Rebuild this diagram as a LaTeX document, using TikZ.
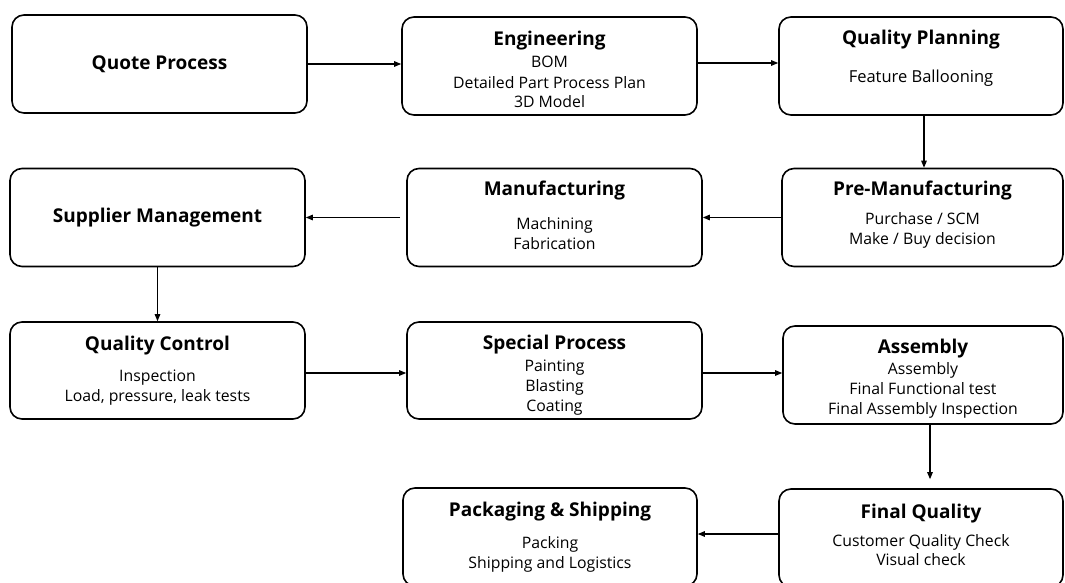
\documentclass[tikz,border=0pt]{standalone}
\usepackage{fontspec}
\setmainfont{Open Sans}
\usetikzlibrary{arrows.meta}

\newcommand{\stagetitle}[1]{{\fontsize{19}{20}\selectfont\bfseries #1}}

\begin{document}
\begin{tikzpicture}[
  x=1pt, y=-1pt,
  font=\fontsize{15.8}{20}\selectfont,
  every node/.style={align=center},
  stage/.style={draw=black, line width=1.6pt, rounded corners=12pt,
                minimum width=295pt, minimum height=98pt, inner sep=0pt},
  flow/.style={-{Triangle[length=7pt,width=5.5pt]}, line width=1.2pt},
]
\useasboundingbox (0,0) rectangle (1065,583);

% ---------- row 1 ----------
\node[stage] (quote) at (159.5,64) {\stagetitle{Quote Process}};
\node[stage] (eng) at (549.5,66)
  {\rule{0pt}{21pt}\stagetitle{Engineering}\\[2pt] BOM\\[1pt] Detailed Part Process Plan\\[-1pt] 3D Model};
\node[stage, minimum width=284pt] (qplan) at (921,66)
  {\stagetitle{Quality Planning}\\[18pt] {\fontsize{16.5}{20}\selectfont Feature Ballooning}\\ \mbox{}};

% ---------- row 2 ----------
\node[stage, minimum width=281pt] (premfg) at (922.5,217.5)
  {\stagetitle{Pre-Manufacturing}\\[9pt] Purchase / SCM\\ Make / Buy decision\rule[-9pt]{0pt}{9pt}};
\node[stage] (mfg) at (554.5,217.5)
  {\stagetitle{Manufacturing}\\[14pt] Machining\\ Fabrication\rule[-5pt]{0pt}{5pt}};
\node[stage] (supplier) at (157.5,217.5) {\stagetitle{Supplier Management}};

% ---------- row 3 ----------
\node[stage, minimum height=97pt] (qc) at (157.5,370.5)
  {\stagetitle{Quality Control}\\[11pt] Inspection\\ Load, pressure, leak tests};
\node[stage, minimum height=97pt] (special) at (554.5,370.5)
  {\rule{0pt}{24pt}\stagetitle{Special Process}\\[2pt] Painting\\ Blasting\\ Coating};
\node[stage, minimum width=280pt] (assembly) at (923,375)
  {\rule{0pt}{21pt}\stagetitle{Assembly}\\[1pt] Assembly\\ Final Functional test\\ Final Assembly Inspection};

% ---------- row 4 ----------
\node[stage, minimum width=284pt] (finalq) at (921,538)
  {\stagetitle{Final Quality}\\[8pt] Customer Quality Check\\[-1pt] Visual check\rule[-6pt]{0pt}{6pt}};
\node[stage, minimum width=294pt] (packing) at (550,537)
  {\stagetitle{Packaging \& Shipping}\\[12pt] Packing\\ Shipping and Logistics};

% ---------- arrows ----------
\draw[flow] (quote.east) -- (quote.east -| eng.west);
\draw[flow] ([yshift=3pt]eng.east) -- ([yshift=3pt]eng.east -| qplan.west);
\draw[flow] ([xshift=3pt]qplan.south) -- ([xshift=3pt]qplan.south |- premfg.north);
\draw[flow] (premfg.west) -- (mfg.east);
\draw[flow, shorten <=6pt] (mfg.west) -- (supplier.east);
\draw[flow] (supplier.south) -- (qc.north);
\draw[flow] ([yshift=-2.5pt]qc.east) -- ([yshift=-2.5pt]qc.east -| special.west);
\draw[flow] ([yshift=-2.5pt]special.east) -- ([yshift=-2.5pt]special.east -| assembly.west);
\draw[flow, shorten >=9pt] ([xshift=7pt]assembly.south) -- ([xshift=7pt]assembly.south |- finalq.north);
\draw[flow] ([yshift=4pt]finalq.west) -- ([yshift=4pt]finalq.west -| packing.east);

\end{tikzpicture}
\end{document}
